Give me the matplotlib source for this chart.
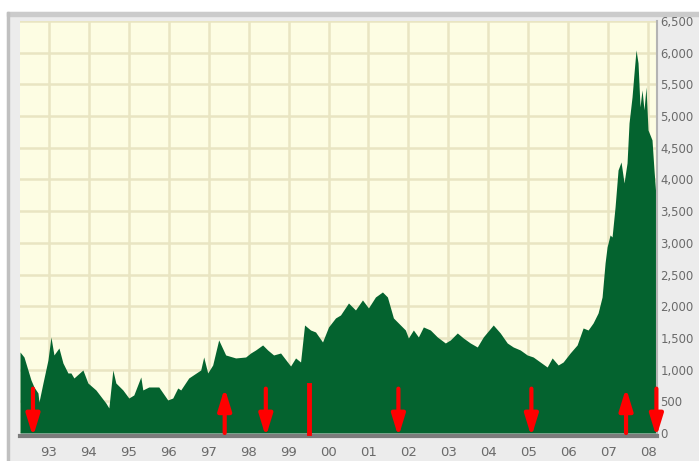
import matplotlib
matplotlib.use('Agg')
import matplotlib.pyplot as plt
from matplotlib.patches import Rectangle

# index level (decimal year, points)
dates = [1992.275, 1992.375, 1992.55, 1992.625, 1992.725, 1992.75, 1992.85, 1992.975,
         1993.05, 1993.125, 1993.25, 1993.35, 1993.475, 1993.55, 1993.625, 1993.85, 1993.975,
         1994.175, 1994.425, 1994.5, 1994.6, 1994.675, 1994.85, 1995.0, 1995.125, 1995.3,
         1995.35, 1995.5, 1995.75, 1995.975, 1996.1, 1996.225, 1996.3, 1996.5, 1996.8,
         1996.875, 1996.975, 1997.1, 1997.25, 1997.425, 1997.675, 1997.925, 1998.05,
         1998.175, 1998.35, 1998.475, 1998.625, 1998.8, 1999.05, 1999.175, 1999.3, 1999.4,
         1999.55, 1999.675, 1999.85, 2000.0, 2000.175, 2000.3, 2000.5, 2000.675, 2000.85,
         2001.0, 2001.175, 2001.35, 2001.475, 2001.625, 2001.8, 2001.925, 2002.0, 2002.125,
         2002.25, 2002.375, 2002.55, 2002.725, 2002.925, 2003.05, 2003.225, 2003.375,
         2003.55, 2003.725, 2003.875, 2004.125, 2004.3, 2004.475, 2004.625, 2004.8,
         2004.975, 2005.125, 2005.3, 2005.475, 2005.6, 2005.75, 2005.875, 2006.05, 2006.225,
         2006.375, 2006.5, 2006.625, 2006.75, 2006.85, 2006.925, 2006.975, 2007.05, 2007.1,
         2007.175, 2007.25, 2007.325, 2007.4, 2007.475, 2007.525, 2007.6, 2007.65, 2007.7,
         2007.75, 2007.8, 2007.85, 2007.9, 2007.95, 2008.0, 2008.1, 2008.15, 2008.225]
values = [1278, 1199, 836, 726, 631, 489, 789, 1152,
          1515, 1231, 1341, 1105, 947, 947, 868, 994, 789,
          679, 473, 395, 994, 789, 679, 552, 600, 884,
          679, 726, 726, 521, 552, 710, 679, 868, 994,
          1199, 947, 1073, 1468, 1231, 1184, 1199, 1262,
          1310, 1389, 1310, 1231, 1262, 1057, 1184, 1120, 1704,
          1625, 1594, 1436, 1673, 1815, 1862, 2051, 1941, 2099,
          1973, 2146, 2225, 2146, 1815, 1704, 1625, 1499, 1625,
          1515, 1673, 1625, 1515, 1420, 1468, 1578, 1499,
          1420, 1357, 1515, 1704, 1578, 1420, 1357, 1310,
          1231, 1199, 1120, 1041, 1184, 1073, 1120, 1262, 1389,
          1657, 1625, 1736, 1894, 2146, 2683, 2935, 3124, 3093,
          3566, 4150, 4276, 3945, 4261, 4892, 5302, 5681, 6044,
          5839, 5144, 5413, 5097, 5460, 4781, 4624, 4150, 3519]

# buy / sell signals
signal_dates = [1992.6, 1997.4, 1998.43, 1999.5, 2001.75, 2005.08, 2007.45, 2008.21]
signal_kind = ['down', 'up', 'down', 'line', 'down', 'down', 'up', 'down']

years = list(range(1993, 2009))
year_labels = ['%02d' % (y % 100) for y in years]
y_ticks = list(range(0, 6501, 500))
y_labels = [f'{v:,}' for v in y_ticks]

W, H = 699, 461
fig = plt.figure(figsize=(W / 100, H / 100), dpi=100, facecolor='white')

# grey frame around the chart
fig.patches.append(Rectangle((7 / W, 0), 1, (H - 12) / H, transform=fig.transFigure,
                             color='#ececec', zorder=-10))
fig.patches.append(Rectangle((7 / W, (H - 16) / H), 1, 4 / H, transform=fig.transFigure,
                             color='#cbcbcb', zorder=-9))
fig.patches.append(Rectangle((7 / W, 0), 2 / W, (H - 12) / H, transform=fig.transFigure,
                             color='#c0c0c0', zorder=-9))

ax = fig.add_axes([20 / W, (H - 433) / H, 637 / W, 412 / H])
ax.set_facecolor('#fdfde3')
ax.fill_between(dates, values, 0, color='#04632f', lw=0, zorder=2)

ax.set_xlim(1992.275, 2008.225)
ax.set_ylim(0, 6500)
ax.set_xticks(years)
ax.set_xticklabels(year_labels)
ax.set_yticks(y_ticks)
ax.set_yticklabels(y_labels)
ax.yaxis.tick_right()
ax.tick_params(axis='both', length=0, labelcolor='#6a6a6a')
ax.tick_params(axis='x', pad=7, labelsize=9.5)
ax.tick_params(axis='y', pad=2.5, labelsize=8.4)
ax.grid(True, color='#e9e5c2', lw=1.8)
ax.set_axisbelow(True)

for s in ['top', 'left']:
    ax.spines[s].set_visible(False)
ax.spines['bottom'].set_color('#7c7c7c')
ax.spines['bottom'].set_linewidth(3)
ax.spines['bottom'].set_position(('outward', 2))
ax.spines['right'].set_color('#b4b4b4')
ax.spines['right'].set_linewidth(1.5)

for d, kind in zip(signal_dates, signal_kind):
    if kind == 'line':
        ax.plot([d, d], [0, 760], color='#ff0000', lw=3.5, zorder=4, clip_on=False)
        continue
    if kind == 'down':
        tip, tail = (d, -60), (d, 700)
    else:
        tip, tail = (d, 710), (d, 0)
    ax.annotate('', xy=tip, xytext=tail, annotation_clip=False, zorder=4,
                arrowprops=dict(arrowstyle='-|>,head_length=1.3,head_width=0.4',
                                color='#ff0000', lw=3, shrinkA=0, shrinkB=0,
                                mutation_scale=10))

plt.savefig('out.png', dpi=100, facecolor='white')
